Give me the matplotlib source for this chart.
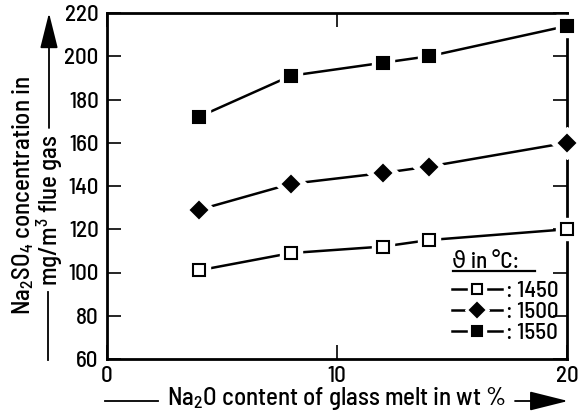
import matplotlib
matplotlib.use("Agg")
import matplotlib.pyplot as plt
from matplotlib.lines import Line2D
from matplotlib.legend_handler import HandlerTuple

FONT = 'Barlow Semi Condensed'
plt.rcParams['font.family'] = [FONT, 'DejaVu Sans']
plt.rcParams['font.weight'] = 500
plt.rcParams['mathtext.fontset'] = 'custom'
plt.rcParams['mathtext.rm'] = FONT + ':medium'
plt.rcParams['mathtext.it'] = FONT + ':medium'
plt.rcParams['mathtext.default'] = 'rm'

na2o = [4, 8, 12, 14, 20]
s1450 = [101, 109, 112, 115, 120]
s1500 = [129, 141, 146, 149, 160]
s1550 = [172, 191, 197, 200, 214]
temps = ["1450", "1500", "1550"]
xticks = [0, 10, 20]
yticks = [60, 80, 100, 120, 140, 160, 180, 200, 220]

fig = plt.figure(figsize=(5.87, 4.17), dpi=100)
ax = fig.add_axes([107/587, 1-359/417, 460/587, 346/417])
ax.set_xlim(0, 20)
ax.set_ylim(60, 220)

series = [(s1450, 's', 'white', 8.5), (s1500, 'D', 'black', 8.5), (s1550, 's', 'black', 8.5)]
handles = []
for vals, mk, fc, ms in series:
    ax.plot(na2o, vals, color='black', lw=1.8, zorder=2, clip_on=False)
    ax.plot(na2o, vals, ls='none', marker=mk, ms=ms+8, mfc='white', mec='white', zorder=3, clip_on=False)
    ax.plot(na2o, vals, ls='none', marker=mk, ms=ms, mfc=fc, mec='black', mew=1.5, zorder=4, clip_on=False)
    h_line = Line2D([], [], color='black', lw=1.8)
    h_bg = Line2D([], [], ls='none', marker=mk, ms=ms+4, mfc='white', mec='white')
    h_mk = Line2D([], [], ls='none', marker=mk, ms=ms-1, mfc=fc, mec='black', mew=1.5)
    handles.append((h_line, h_bg, h_mk))

ax.set_xticks(xticks)
ax.set_xticklabels([str(t) for t in xticks])
ax.set_yticks(yticks)
ax.set_yticklabels([str(t) for t in yticks])
ax.tick_params(direction='in', length=10, width=1.2, labelsize=16.5, top=True, right=True)
ax.tick_params(axis='x', pad=5)
ax.tick_params(axis='y', pad=6)
for s in ax.spines.values():
    s.set_linewidth(2)

leg = ax.legend(handles, [": " + t for t in temps], title="ϑ in °C:", frameon=False,
                loc='upper left', bbox_to_anchor=(0.73, 0.335), fontsize=16.5, title_fontsize=16.5,
                handlelength=2.2, handletextpad=0.15, labelspacing=0.05, borderaxespad=0.0,
                handler_map={tuple: HandlerTuple(ndivide=1)})
leg._legend_box.align = "left"
leg._legend_box.sep = 6
ax.plot([0.752, 0.93], [0.255, 0.255], transform=ax.transAxes, color='black', lw=1.6)

# y label
fig.text(23/587, 1-196/417, "Na$_2$SO$_4$ concentration in", rotation=90, ha='center', va='center', fontsize=18)
fig.text(50/587, 1-210/417, "mg/m$^3$ flue gas", rotation=90, ha='center', va='center', fontsize=18)
fig.add_artist(Line2D([48/587, 48/587], [1-292/417, 1-360/417], color='black', lw=1.3))
ax.annotate("", xy=(49/587, 1-13/417), xytext=(49/587, 1-128/417), xycoords='figure fraction',
            textcoords='figure fraction',
            arrowprops=dict(arrowstyle='-|>,head_length=2.2,head_width=0.55', mutation_scale=10,
                            color='black', lw=1.3, shrinkA=0, shrinkB=0))

# x label
fig.text(336/587, 1-399/417, "Na$_2$O content of glass melt in wt %", ha='center', va='center', fontsize=18)
fig.add_artist(Line2D([105/587, 158/587], [1-401/417, 1-401/417], color='black', lw=1.3))
ax.annotate("", xy=(568/587, 1-401/417), xytext=(515/587, 1-401/417), xycoords='figure fraction',
            textcoords='figure fraction',
            arrowprops=dict(arrowstyle='-|>,head_length=2.4,head_width=0.6', mutation_scale=10,
                            color='black', lw=1.3, shrinkA=0, shrinkB=0))

fig.savefig("out.png", dpi=100)
